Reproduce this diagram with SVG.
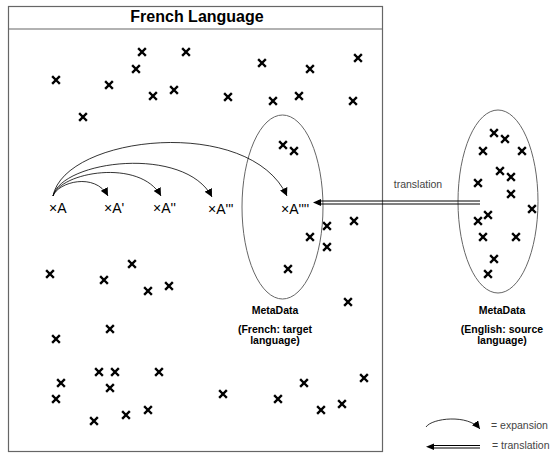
<svg xmlns="http://www.w3.org/2000/svg" xmlns:xlink="http://www.w3.org/1999/xlink" width="552" height="453" viewBox="0 0 552 453">
<style>
.frame{fill:none;stroke:#666;stroke-width:1.2}
.ell{fill:none;stroke:#666;stroke-width:1}
.x{stroke:#000;stroke-width:2.4;fill:none;stroke-linecap:square}
.exp{fill:none;stroke:#000;stroke-width:0.8}
.tr{fill:none;stroke:#000;stroke-width:1}
.title{font-family:"Liberation Sans",Arial,sans-serif;font-size:16px;font-weight:bold;fill:#000}
.lab{font-family:"Liberation Sans",Arial,sans-serif;font-size:14px;fill:#000}
.meta{font-family:"Liberation Sans",Arial,sans-serif;font-size:10.5px;font-weight:bold;fill:#000;text-anchor:middle}
.small{font-family:"Liberation Sans",Arial,sans-serif;font-size:10.5px;fill:#444}
</style>
<defs>
<path id="xm" class="x" d="M-3,-3L3,3M3,-3L-3,3"/>
<marker id="ah" markerUnits="userSpaceOnUse" markerWidth="8" markerHeight="8" refX="6" refY="3" orient="auto" viewBox="0 0 6 6">
<path d="M0,0L6,3L0,6Z" fill="#000"/>
</marker>
<marker id="th" markerUnits="userSpaceOnUse" markerWidth="10" markerHeight="9" refX="9" refY="4" orient="auto" viewBox="0 0 9 8">
<path d="M0,0L9,4L0,8Z" fill="#000"/>
</marker>
</defs>

<g id="frame">
<rect class="frame" x="8.5" y="6.5" width="374" height="445"/>
<line class="frame" x1="8.5" y1="29" x2="382.5" y2="29"/>
<text class="title" x="197" y="22" text-anchor="middle">French Language</text>
</g>

<g id="french-points">
<use href="#xm" x="142" y="52"/><use href="#xm" x="186" y="52"/><use href="#xm" x="262" y="63"/><use href="#xm" x="358" y="58"/>
<use href="#xm" x="136" y="69"/><use href="#xm" x="310" y="69"/><use href="#xm" x="56" y="80"/><use href="#xm" x="109" y="85"/>
<use href="#xm" x="153" y="96"/><use href="#xm" x="174" y="90"/><use href="#xm" x="228" y="97"/><use href="#xm" x="273" y="101"/>
<use href="#xm" x="299" y="96"/><use href="#xm" x="353" y="101"/><use href="#xm" x="83" y="117"/>
<use href="#xm" x="283" y="145"/><use href="#xm" x="294" y="151"/><use href="#xm" x="327" y="226"/><use href="#xm" x="354" y="221"/>
<use href="#xm" x="310" y="237"/><use href="#xm" x="327" y="247"/><use href="#xm" x="288" y="269"/><use href="#xm" x="348" y="302"/>
<use href="#xm" x="50" y="274"/><use href="#xm" x="104" y="280"/><use href="#xm" x="132" y="264"/><use href="#xm" x="148" y="291"/>
<use href="#xm" x="169" y="286"/><use href="#xm" x="110" y="329"/><use href="#xm" x="56" y="339"/>
<use href="#xm" x="99" y="372"/><use href="#xm" x="115" y="372"/><use href="#xm" x="159" y="372"/><use href="#xm" x="61" y="383"/>
<use href="#xm" x="110" y="388"/><use href="#xm" x="56" y="399"/><use href="#xm" x="223" y="394"/><use href="#xm" x="278" y="399"/>
<use href="#xm" x="304" y="383"/><use href="#xm" x="364" y="378"/><use href="#xm" x="321" y="410"/><use href="#xm" x="342" y="404"/>
<use href="#xm" x="148" y="410"/><use href="#xm" x="126" y="415"/><use href="#xm" x="94" y="421"/>
</g>

<g id="french-metadata">
<ellipse class="ell" cx="282.5" cy="207" rx="40.5" ry="92"/>
<text class="meta" x="275" y="314">MetaData</text>
<text class="meta" x="275" y="333">(French: target</text>
<text class="meta" x="275" y="344">language)</text>
</g>

<g id="english-metadata">
<ellipse class="ell" cx="498" cy="201.5" rx="40" ry="91.5"/>
<use href="#xm" x="494" y="133"/><use href="#xm" x="505" y="139"/><use href="#xm" x="483" y="151"/><use href="#xm" x="522" y="151"/>
<use href="#xm" x="500" y="171"/><use href="#xm" x="511" y="177"/><use href="#xm" x="478" y="183"/><use href="#xm" x="511" y="194"/>
<use href="#xm" x="532" y="209"/><use href="#xm" x="478" y="221"/><use href="#xm" x="488" y="215"/><use href="#xm" x="483" y="237"/>
<use href="#xm" x="516" y="237"/><use href="#xm" x="494" y="259"/><use href="#xm" x="488" y="274"/>
<text class="meta" x="502" y="314">MetaData</text>
<text class="meta" x="502" y="333">(English: source</text>
<text class="meta" x="502" y="344">language)</text>
</g>

<g id="labels">
<text class="lab" x="49" y="213">×A</text>
<text class="lab" x="104" y="213">×A'</text>
<text class="lab" x="153" y="213">×A''</text>
<text class="lab" x="208" y="214">×A'''</text>
<text class="lab" x="281" y="214">×A''''</text>
</g>

<g id="connectors">
<path class="exp" d="M53,196 C58,182 95,172 108,196" marker-end="url(#ah)"/>
<path class="exp" d="M53,196 C60,172 140,158 161,196" marker-end="url(#ah)"/>
<path class="exp" d="M53,196 C62,160 185,145 212,197" marker-end="url(#ah)"/>
<path class="exp" d="M53,196 C65,135 250,115 287,196" marker-end="url(#ah)"/>
<line class="tr" x1="480" y1="201" x2="318" y2="201"/>
<line class="tr" x1="480" y1="204" x2="318" y2="204"/>
<path d="M313,202.5L321,199L321,206Z" fill="#000"/>
<text class="small" x="418" y="188" text-anchor="middle">translation</text>
</g>

<g id="legend">
<path class="exp" d="M426,427 C432,418 468,414 480,429" marker-end="url(#ah)"/>
<text class="small" x="491" y="429">= expansion</text>
<line class="tr" x1="480" y1="445.5" x2="432" y2="445.5"/>
<line class="tr" x1="480" y1="448" x2="432" y2="448"/>
<path d="M426,446.8L434,443.5L434,450Z" fill="#000"/>
<text class="small" x="492" y="449">= translation</text>
</g>
</svg>
